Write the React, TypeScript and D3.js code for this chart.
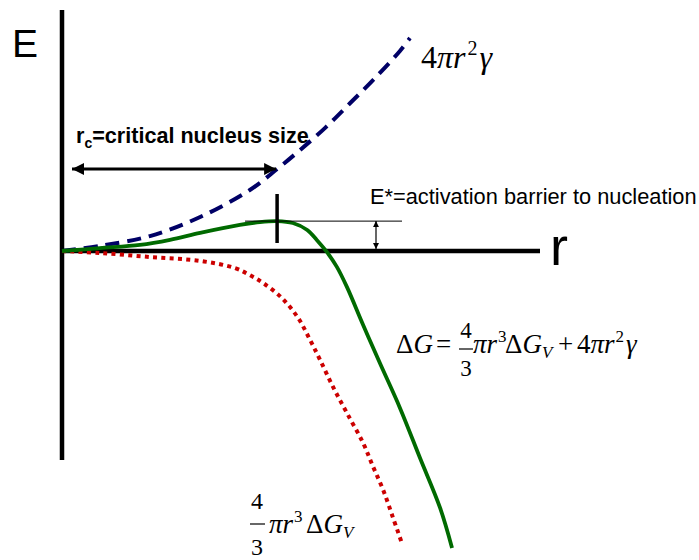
import React from 'react';
import * as d3 from 'd3';

// r and E in arbitrary units
const surfaceR = [0, 0.79, 1.84, 2.89, 3.93, 4.5, 4.98, 5.5, 6.03, 6.55, 7.07, 7.28];
const surfaceE = [0, 0.21, 0.62, 1.41, 2.53, 3.4, 4.19, 5.1, 6.14, 7.18, 8.3, 8.84];

const volumeR = [0, 0.79, 1.84, 2.89, 3.62, 3.93, 4.21, 4.6, 4.94, 5.19, 5.4, 5.67, 5.96, 6.3, 6.51, 6.72, 6.92, 7.11];
const volumeE = [0, -0.08, -0.25, -0.41, -0.71, -1.0, -1.33, -1.95, -2.78, -3.69, -4.52, -5.64, -6.72, -7.97, -8.96, -9.92, -11.04, -12.12];

const totalR = [0, 0.79, 1.63, 2.26, 2.89, 3.72, 4.14, 4.5, 4.83, 5.13, 5.33, 5.54, 5.75, 5.96, 6.3, 6.65, 7.07, 7.49, 7.91, 8.16];
const totalE = [0, 0.12, 0.25, 0.46, 0.75, 1.08, 1.2, 1.24, 1.16, 0.87, 0.46, -0.04, -0.66, -1.49, -3.07, -4.65, -6.51, -8.59, -10.66, -12.32];

const rCritical = 4.5;
const eBarrier = 1.24;
const rAxis = [0, 10];
const eAxis = [-8.67, 10];

const W = 699, H = 560;
const sans = 'Liberation Sans, Arial, sans-serif';
const serif = 'Liberation Serif, Times New Roman, serif';

export default function App() {
  const x = d3.scaleLinear().domain([0, 10]).range([62, 540]);
  const y = d3.scaleLinear().domain([-10, 10]).range([492, 10]);

  const line = d3.line<[number, number]>()
    .x(d => x(d[0]))
    .y(d => y(d[1]))
    .curve(d3.curveCatmullRom.alpha(0.5));

  const pts = (rs: number[], es: number[]) => rs.map((r, i) => [r, es[i]] as [number, number]);

  const xc = x(rCritical);
  const yb = y(eBarrier);

  return (
    <svg width={W} height={H} style={{ position: 'absolute', left: 0, top: 0, background: '#fff' }}>
      <defs>
        <marker id="bigHead" viewBox="0 0 12 12" refX="12" refY="6" markerWidth="12" markerHeight="12"
          markerUnits="userSpaceOnUse" orient="auto-start-reverse">
          <path d="M0,0 L12,6 L0,12 Z" fill="#000" />
        </marker>
        <marker id="smallHead" viewBox="0 0 6 6" refX="6" refY="3" markerWidth="6" markerHeight="6"
          markerUnits="userSpaceOnUse" orient="auto-start-reverse">
          <path d="M0,0 L6,3 L0,6 Z" fill="#000" />
        </marker>
      </defs>

      {/* axes */}
      <line x1={x(0)} x2={x(0)} y1={y(eAxis[1])} y2={y(eAxis[0])} stroke="#000" strokeWidth={4.5} />
      <line x1={x(rAxis[0])} x2={x(rAxis[1])} y1={y(0)} y2={y(0)} stroke="#000" strokeWidth={4.5} />
      <text x={12} y={57} fontFamily={sans} fontSize={39}>E</text>
      <text x={550} y={265} fontFamily={sans} fontSize={54}>r</text>

      {/* curves */}
      <path d={line(pts(surfaceR, surfaceE)) || ''} fill="none" stroke="#000066" strokeWidth={4}
        strokeDasharray="14 8" />
      <path d={line(pts(volumeR, volumeE)) || ''} fill="none" stroke="#cc0000" strokeWidth={4}
        strokeDasharray="4 4.3" />
      <path d={line(pts(totalR, totalE)) || ''} fill="none" stroke="#006a00" strokeWidth={3.8} />

      {/* critical radius */}
      <line x1={x(0) + 10} x2={xc - 1} y1={169} y2={169} stroke="#000" strokeWidth={3}
        markerStart="url(#bigHead)" markerEnd="url(#bigHead)" />
      <text x={76} y={143} fontFamily={sans} fontWeight="bold" fontSize={21.6}>
        r<tspan fontSize={14} dy={5}>c</tspan><tspan dy={-5}>=critical nucleus size</tspan>
      </text>
      <line x1={xc} x2={xc} y1={194} y2={243} stroke="#000" strokeWidth={3.5} />

      {/* barrier */}
      <line x1={245} x2={402} y1={yb} y2={yb} stroke="#000" strokeWidth={1} />
      <line x1={376} x2={376} y1={yb} y2={y(0) - 2} stroke="#000" strokeWidth={1.2}
        markerStart="url(#smallHead)" markerEnd="url(#smallHead)" />
      <text x={370} y={204} fontFamily={sans} fontSize={21.8}>E*=activation barrier to nucleation</text>

      {/* 4πr²γ */}
      <text x={421} y={68} fontFamily={serif} fontSize={32}>
        4<tspan fontStyle="italic">πr</tspan>
        <tspan fontSize={20} dy={-13} dx={2}>2</tspan>
        <tspan fontStyle="italic" dy={13} dx={2}>γ</tspan>
      </text>

      {/* ΔG formula */}
      <text y={353} fontFamily={serif} fontSize={27}>
        <tspan x={396}>Δ</tspan><tspan fontStyle="italic">G</tspan>
        <tspan x={436}>=</tspan>
        <tspan x={473} fontStyle="italic">πr</tspan>
        <tspan fontSize={17} dy={-11} dx={1}>3</tspan>
        <tspan x={505} dy={11}>Δ</tspan><tspan fontStyle="italic">G</tspan>
        <tspan fontSize={17} fontStyle="italic" dy={5}>V</tspan>
        <tspan x={558} dy={-5}>+</tspan>
        <tspan x={577}>4</tspan><tspan fontStyle="italic">πr</tspan>
        <tspan fontSize={17} dy={-11} dx={1}>2</tspan>
        <tspan fontStyle="italic" dy={11} dx={2}>γ</tspan>
      </text>
      <text x={466} y={338} fontFamily={serif} fontSize={23} textAnchor="middle">4</text>
      <line x1={459} x2={473} y1={349} y2={349} stroke="#000" strokeWidth={1.2} />
      <text x={466} y={376} fontFamily={serif} fontSize={23} textAnchor="middle">3</text>

      {/* volume term */}
      <text x={257} y={509} fontFamily={serif} fontSize={24} textAnchor="middle">4</text>
      <line x1={250} x2={265} y1={524} y2={524} stroke="#000" strokeWidth={1.2} />
      <text x={257} y={555} fontFamily={serif} fontSize={24} textAnchor="middle">3</text>
      <text y={533} fontFamily={serif} fontSize={27}>
        <tspan x={269} fontStyle="italic">πr</tspan>
        <tspan fontSize={17} dy={-11} dx={1}>3</tspan>
        <tspan x={306} dy={11}>Δ</tspan><tspan fontStyle="italic">G</tspan>
        <tspan fontSize={17} fontStyle="italic" dy={5}>V</tspan>
      </text>
    </svg>
  );
}
